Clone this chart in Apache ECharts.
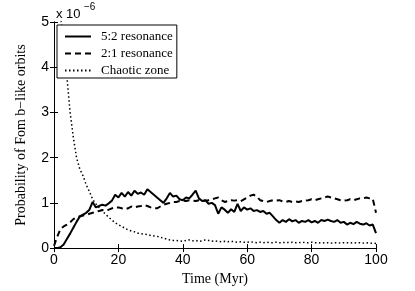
<!DOCTYPE html>
<html><head><meta charset="utf-8">
<script src="https://cdn.jsdelivr.net/npm/echarts@6/dist/echarts.min.js"></script>
<style>html,body{margin:0;padding:0;background:#fff}#c{width:415px;height:291px}</style>
</head><body><div id="c"></div>
<script>
// Time (Myr) for each sample
const timeMyr = [0,1,2,3,4,5,6,7,8,9,10,11,12,13,14,15,16,17,18,19,20,21,22,23,24,25,26,27,28,29,30,31,32,33,34,35,36,37,38,39,40,41,42,43,44,45,46,47,48,49,50,51,52,53,54,55,56,57,58,59,60,61,62,63,64,65,66,67,68,69,70,71,72,73,74,75,76,77,78,79,80,81,82,83,84,85,86,87,88,89,90,91,92,93,94,95,96,97,98,99,100];
// Probability (x 1e-6)
const res52 = [0,0,0.02,0.08,0.2,0.32,0.45,0.58,0.7,0.74,0.78,0.85,1.02,0.9,0.93,0.96,0.94,0.99,1.05,1.18,1.12,1.22,1.14,1.24,1.16,1.27,1.2,1.23,1.18,1.3,1.24,1.18,1.12,1.06,1.0,1.1,1.22,1.14,1.16,1.08,1.06,1.12,1.1,1.18,1.27,1.1,1.04,1.06,0.98,1.0,0.95,0.76,0.9,0.85,0.78,0.86,0.8,0.98,0.82,0.9,0.85,0.88,0.82,0.84,0.8,0.82,0.76,0.78,0.7,0.62,0.56,0.62,0.58,0.64,0.59,0.62,0.56,0.6,0.58,0.62,0.57,0.6,0.56,0.62,0.6,0.63,0.6,0.58,0.62,0.56,0.58,0.52,0.56,0.53,0.58,0.54,0.52,0.55,0.5,0.52,0.33];
const res21 = [0.05,0.25,0.42,0.48,0.52,0.57,0.64,0.68,0.7,0.72,0.73,0.76,0.78,0.8,0.82,0.84,0.83,0.85,0.88,0.9,0.9,0.88,0.86,0.88,0.92,0.9,0.92,0.93,0.95,0.93,0.9,0.88,0.88,0.92,0.96,0.98,1.0,1.02,1.02,1.04,1.05,1.04,1.06,1.05,1.04,1.06,1.04,1.05,1.06,1.08,1.1,1.12,1.06,1.02,1.04,1.06,1.05,1.06,1.04,1.08,1.12,1.16,1.18,1.14,1.06,1.04,1.02,1.04,1.06,1.05,1.06,1.03,1.02,1.04,1.02,1.03,1.02,1.04,1.05,1.06,1.08,1.06,1.08,1.1,1.12,1.14,1.12,1.1,1.08,1.06,1.05,1.06,1.08,1.06,1.08,1.1,1.1,1.12,1.1,1.09,0.78];
const chaotic = [null,6.0,5.2,4.4,3.8,3.0,2.45,2.0,1.75,1.6,1.4,1.25,1.08,0.98,0.9,0.82,0.75,0.68,0.62,0.56,0.52,0.48,0.44,0.4,0.38,0.36,0.33,0.32,0.31,0.3,0.28,0.27,0.26,0.24,0.22,0.2,0.18,0.17,0.17,0.16,0.15,0.17,0.18,0.16,0.17,0.15,0.16,0.18,0.17,0.15,0.16,0.15,0.14,0.15,0.14,0.15,0.14,0.13,0.14,0.13,0.13,0.14,0.13,0.12,0.13,0.12,0.13,0.12,0.12,0.13,0.12,0.12,0.13,0.12,0.13,0.12,0.12,0.13,0.12,0.12,0.13,0.12,0.12,0.11,0.12,0.12,0.11,0.12,0.12,0.11,0.12,0.12,0.11,0.12,0.11,0.12,0.11,0.12,0.11,0.11,0.1];
const seriesNames = ['5:2 resonance','2:1 resonance','Chaotic zone'];
const xTicks = {min:0,max:100,interval:20};
const yTicks = {min:0,max:5,interval:1};

const pairs = arr => timeMyr.map((t,i)=>[t,arr[i]]);
const chart = echarts.init(document.getElementById('c'));
const axisLine = {show:true,lineStyle:{color:'#000',width:1}};
const tick = {show:true,inside:true,length:4,lineStyle:{color:'#000'}};
const lbl = {color:'#000',fontFamily:'Liberation Sans, Arial, sans-serif',fontSize:14};
chart.setOption({
  animation:false,
  backgroundColor:'#fff',
  grid:{left:54,right:39,top:22,bottom:33},
  xAxis:[
    {type:'value',position:'bottom',min:xTicks.min,max:xTicks.max,interval:xTicks.interval,
     axisLine,axisTick:tick,splitLine:{show:false},axisLabel:Object.assign({margin:5},lbl),
     name:'Time (Myr)',nameLocation:'middle',nameGap:20,
     nameTextStyle:{color:'#000',fontFamily:'Liberation Serif, Times New Roman, serif',fontSize:14}},
    {type:'value',position:'top',min:xTicks.min,max:xTicks.max,interval:xTicks.interval,
     axisLine,axisTick:tick,splitLine:{show:false},axisLabel:{show:false}}
  ],
  yAxis:[
    {type:'value',position:'left',min:yTicks.min,max:yTicks.max,interval:yTicks.interval,
     axisLine,axisTick:tick,splitLine:{show:false},axisLabel:Object.assign({margin:5},lbl),
     name:'Probability of Fom b\u2212like orbits',nameLocation:'middle',nameGap:26,
     nameTextStyle:{color:'#000',fontFamily:'Liberation Serif, Times New Roman, serif',fontSize:14}},
    {type:'value',position:'right',min:yTicks.min,max:yTicks.max,interval:yTicks.interval,
     axisLine,axisTick:tick,splitLine:{show:false},axisLabel:{show:false}}
  ],
  legend:{
    orient:'vertical',left:57,top:25,
    backgroundColor:'#fff',borderColor:'#000',borderWidth:1,borderRadius:0,
    padding:[5,4,1,7],itemWidth:26,itemHeight:10,itemGap:4,
    itemStyle:{opacity:0,borderWidth:0},
    data:seriesNames,
    textStyle:{color:'#000',fontFamily:'Liberation Serif, Times New Roman, serif',fontSize:13,padding:[0,0,0,5]}
  },
  graphic:[
    {type:'text',left:56,top:8,style:{text:'x 10',fill:'#000',font:'13px Liberation Sans, Arial, sans-serif'}},
    {type:'text',left:84,top:2,style:{text:'\u22126',fill:'#000',font:'10px Liberation Sans, Arial, sans-serif'}}
  ],
  series:[
    {name:seriesNames[0],type:'line',data:pairs(res52),symbol:'none',clip:true,
     lineStyle:{color:'#000',width:2,type:'solid'},itemStyle:{color:'#000'}},
    {name:seriesNames[1],type:'line',data:pairs(res21),symbol:'none',clip:true,
     lineStyle:{color:'#000',width:2,type:[6,4]},itemStyle:{color:'#000'}},
    {name:seriesNames[2],type:'line',data:pairs(chaotic),symbol:'none',clip:true,connectNulls:false,
     lineStyle:{color:'#000',width:1.5,type:[1.5,2.5]},itemStyle:{color:'#000'}}
  ]
});
</script></body></html>
